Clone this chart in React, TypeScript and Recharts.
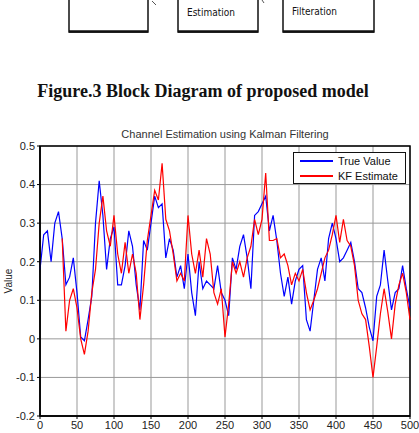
import { CartesianGrid, Line, LineChart, ReferenceArea, XAxis, YAxis } from 'recharts'

// sample index every 5 steps, 0..500
const samples = Array.from({ length: 101 }, (_, i) => i * 5)

const trueValue = [
  0.18, 0.27, 0.28, 0.2, 0.3, 0.33, 0.26, 0.14, 0.16, 0.21, 0.12, 0.005, -0.005, 0.05, 0.11, 0.3, 0.41, 0.32, 0.18, 0.26,
  0.29, 0.14, 0.14, 0.19, 0.28, 0.24, 0.14, 0.075, 0.255, 0.23, 0.3, 0.37, 0.34, 0.35, 0.21, 0.26, 0.23, 0.16, 0.19, 0.13,
  0.22, 0.12, 0.06, 0.2, 0.13, 0.15, 0.14, 0.13, 0.19, 0.12, 0.1, 0.06, 0.21, 0.18, 0.24, 0.27, 0.21, 0.13, 0.32, 0.33,
  0.35, 0.37, 0.28, 0.32, 0.255, 0.17, 0.11, 0.16, 0.09, 0.15, 0.18, 0.19, 0.05, 0.02, 0.1, 0.18, 0.21, 0.15, 0.26, 0.3,
  0.26, 0.2, 0.21, 0.23, 0.25, 0.2, 0.13, 0.12, 0.08, 0.03, -0.005, 0.11, 0.14, 0.23, 0.15, 0.075, 0.12, 0.13, 0.19, 0.13,
  0.08,
]

const kfEstimate = [
  null, null, null, null, null, null, 0.26, 0.02, 0.1, 0.13, 0.08, 0.0, -0.04, 0.02, 0.12, 0.18, 0.3, 0.37, 0.28, 0.24,
  0.32, 0.22, 0.17, 0.25, 0.17, 0.22, 0.17, 0.05, 0.14, 0.255, 0.32, 0.385, 0.36, 0.455, 0.31, 0.28, 0.22, 0.15, 0.17, 0.15,
  0.32, 0.22, 0.17, 0.23, 0.16, 0.26, 0.22, 0.12, 0.09, 0.13, 0.005, 0.09, 0.2, 0.17, 0.2, 0.16, 0.21, 0.24, 0.31, 0.27,
  0.31, 0.43, 0.255, 0.255, 0.26, 0.21, 0.22, 0.19, 0.14, 0.17, 0.15, 0.18, 0.12, 0.075, 0.1, 0.13, 0.17, 0.21, 0.23, 0.27,
  0.32, 0.25, 0.31, 0.255, 0.24, 0.19, 0.1, 0.065, 0.05, -0.02, -0.1, -0.02, 0.065, 0.13, 0.07, 0.0, 0.09, 0.14, 0.17, 0.12,
  0.05,
]

const xTicks = [0, 50, 100, 150, 200, 250, 300, 350, 400, 450, 500]
const yTicks = [-0.2, -0.1, 0, 0.1, 0.2, 0.3, 0.4, 0.5]
const seriesNames = ['True Value', 'KF Estimate']

const data = samples.map((s, i) => ({ s, truth: trueValue[i], kf: kfEstimate[i] }))

const sans = 'Liberation Sans, Arial, sans-serif'
const tickStyle = { fontSize: 11, fill: '#222', fontFamily: sans }

function LegendBox() {
  const colors = ['#0000ff', '#ff0000']
  return (
    <div
      style={{
        position: 'absolute',
        left: 293,
        top: 152,
        width: 111,
        height: 30,
        border: '1.5px solid #111',
        background: '#fff',
        fontFamily: sans,
        fontSize: 11,
        color: '#111',
      }}
    >
      {seriesNames.map((label, i) => (
        <div key={label} style={{ display: 'flex', alignItems: 'center', height: 14, marginTop: 1 }}>
          <span style={{ display: 'inline-block', width: 33, height: 1.5, background: colors[i], marginLeft: 6 }} />
          <span style={{ marginLeft: 5 }}>{label}</span>
        </div>
      ))}
    </div>
  )
}

function BlockDiagram() {
  return (
    <svg width={419} height={110} style={{ position: 'absolute', left: 0, top: 0 }}>
      <g fill="none" stroke="#111" strokeWidth={1.5}>
        <path d="M69,0 V32 H148 V0" />
        <path d="M178,0 V32 H258 V0" />
        <path d="M283,0 V32 H374 V0" />
      </g>
      <g stroke="#111" strokeWidth={2.5}>
        <line x1={69} y1={31.5} x2={148} y2={31.5} />
        <line x1={178} y1={31.5} x2={258} y2={31.5} />
        <line x1={283} y1={31.5} x2={374} y2={31.5} />
      </g>
      <g stroke="#555" strokeWidth={1}>
        <line x1={152} y1={1} x2={156} y2={5} />
        <line x1={262} y1={0} x2={264} y2={3} />
      </g>
      <g fontFamily="Liberation Sans Narrow, DejaVu Sans Condensed, sans-serif" fontSize={10} fill="#111">
        <text x={187} y={16}>Estimation</text>
        <text x={292} y={15}>Filteration</text>
      </g>
      <text
        x={203}
        y={97}
        textAnchor="middle"
        fontFamily="Liberation Serif, Times New Roman, serif"
        fontWeight="bold"
        fontSize={18}
        fill="#111"
      >
        Figure.3 Block Diagram of proposed model
      </text>
    </svg>
  )
}

export default function App() {
  return (
    <div style={{ position: 'absolute', left: 0, top: 0, width: 419, height: 433, background: '#fff' }}>
      <BlockDiagram />
      <div
        style={{
          position: 'absolute',
          top: 128,
          left: 40,
          width: 370,
          textAlign: 'center',
          fontFamily: sans,
          fontSize: 11,
          color: '#333',
        }}
      >
        Channel Estimation using Kalman Filtering
      </div>
      <div
        style={{
          position: 'absolute',
          left: 8,
          top: 281,
          transform: 'translate(-50%, -50%) rotate(-90deg)',
          fontFamily: sans,
          fontSize: 10,
          color: '#222',
        }}
      >
        Value
      </div>
      <div style={{ position: 'absolute', left: 0, top: 120 }}>
        <LineChart width={419} height={313} data={data} margin={{ top: 26, right: 9, left: 0, bottom: 0 }}>
          <CartesianGrid stroke="#999" strokeWidth={1} horizontalValues={yTicks} verticalValues={xTicks} />
          <XAxis
            dataKey="s"
            type="number"
            domain={[0, 500]}
            ticks={xTicks}
            interval={0}
            height={17}
            tick={tickStyle}
            tickSize={3}
            axisLine={{ stroke: '#000', strokeWidth: 1.5 }}
            tickLine={{ stroke: '#000' }}
          />
          <YAxis
            type="number"
            domain={[-0.2, 0.5]}
            ticks={yTicks}
            interval={0}
            width={40}
            tick={tickStyle}
            tickSize={3}
            axisLine={{ stroke: '#000', strokeWidth: 1.5 }}
            tickLine={{ stroke: '#000' }}
          />
          <ReferenceArea x1={0} x2={500} y1={-0.2} y2={0.5} fill="none" stroke="#000" strokeWidth={1.5} />
          <Line
            type="linear"
            dataKey="truth"
            stroke="#0000ff"
            strokeWidth={1.2}
            dot={false}
            name={seriesNames[0]}
            isAnimationActive={false}
          />
          <Line
            type="linear"
            dataKey="kf"
            stroke="#ff0000"
            strokeWidth={1.2}
            dot={false}
            name={seriesNames[1]}
            connectNulls={false}
            isAnimationActive={false}
          />
        </LineChart>
      </div>
      <LegendBox />
    </div>
  )
}
